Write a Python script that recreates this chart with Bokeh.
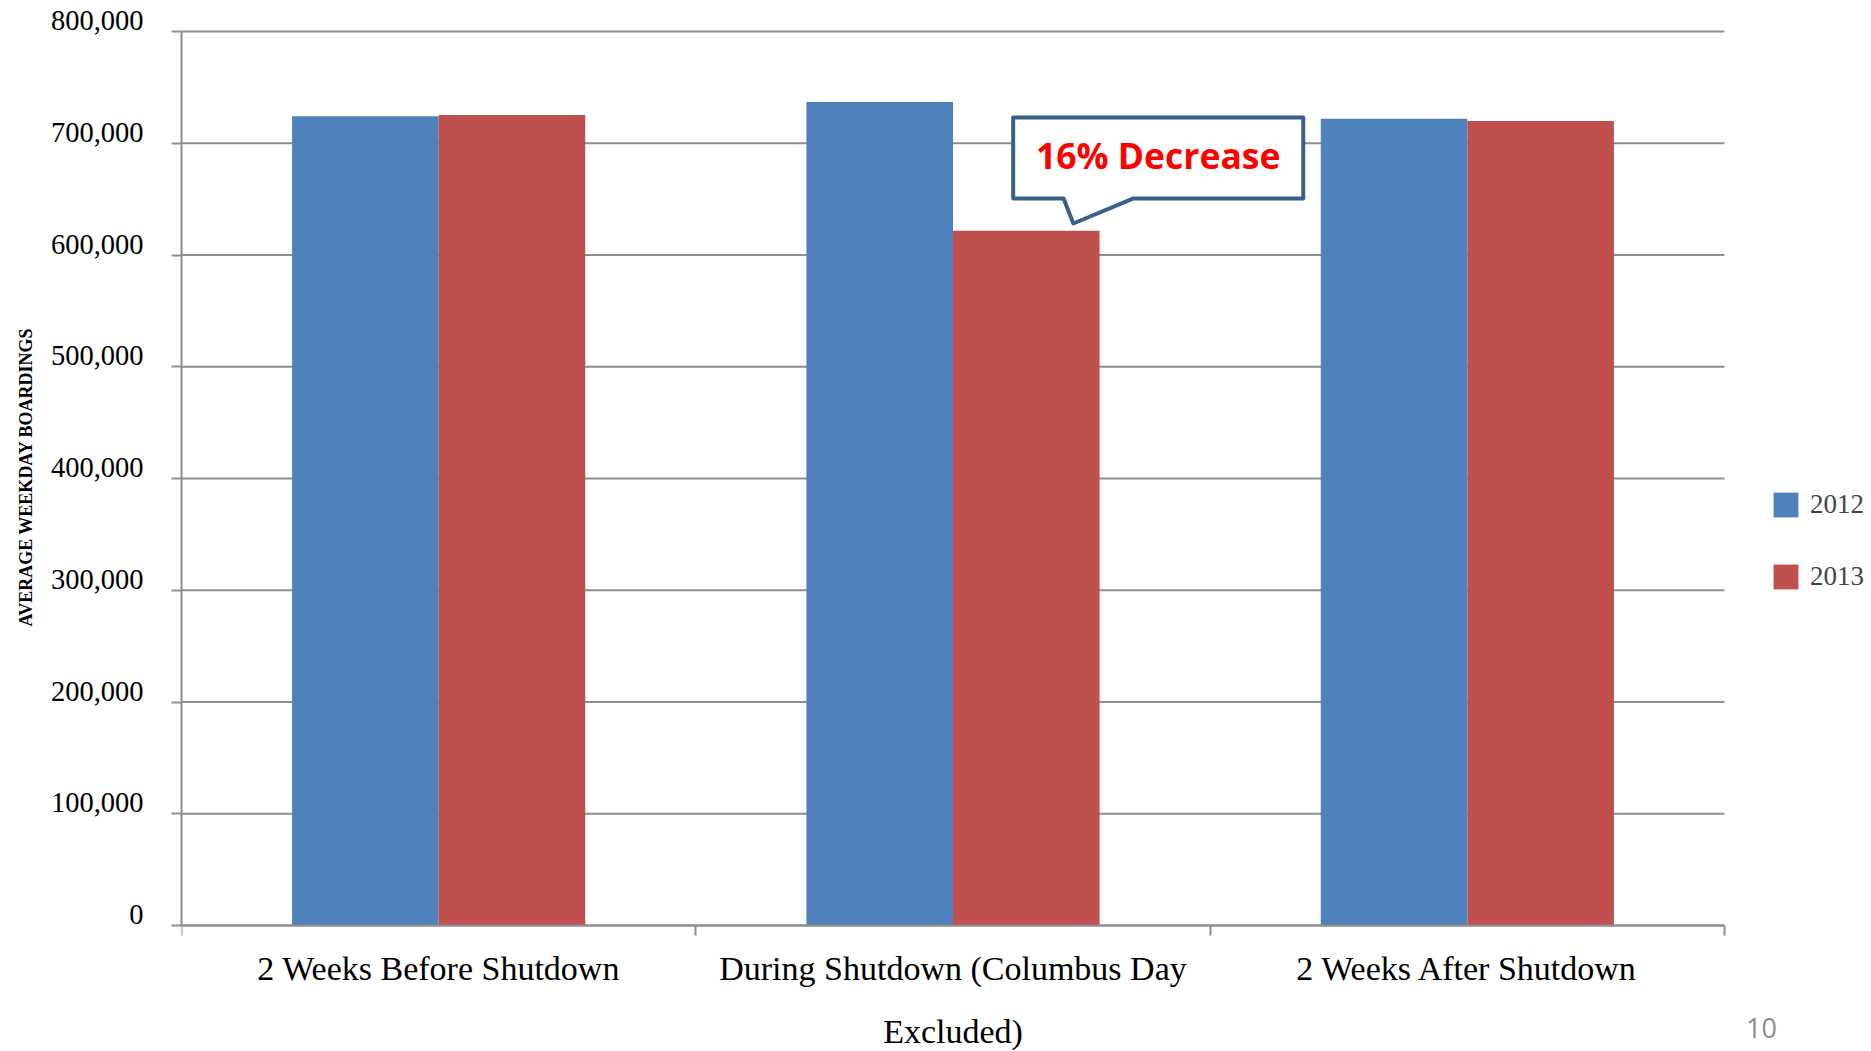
from bokeh.plotting import figure
from bokeh.models import (Range1d, FixedTicker, NumeralTickFormatter, LinearAxis,
                          Legend, LegendItem, Label, Title, ColumnDataSource)
from bokeh.embed import file_html
from bokeh.resources import INLINE

categories = ["2 Weeks Before Shutdown", "During Shutdown (Columbus Day", "2 Weeks After Shutdown"]
label_second_line = ["", "Excluded)", ""]
years = ["2012", "2013"]
values_2012 = [724200, 736900, 722000]
values_2013 = [725200, 621700, 719900]
y_ticks = [0, 100000, 200000, 300000, 400000, 500000, 600000, 700000, 800000]
y_title = "AVERAGE WEEKDAY BOARDINGS"
callout_text = "16% Decrease"
page_number = "10"

BLUE = "#4F81BD"
RED = "#C0504D"
GRID = "#8E8E8E"
SERIF = "Liberation Serif"

n = len(categories)
y_max = y_ticks[-1]
centers = [i + 0.5 for i in range(n)]
bar_w = 0.285
src = ColumnDataSource(dict(
    x12=[c - bar_w / 2 for c in centers],
    x13=[c + bar_w / 2 for c in centers],
    v12=values_2012, v13=values_2013,
))

# the frame spans from the value axis to the right/bottom/top edges of the
# canvas, so that legend, wrapped labels and page number live inside it
x_end = n * 1.09527
y_start = -0.14094 * y_max
y_end = 1.03468 * y_max
p = figure(width=1871, height=1051, x_range=Range1d(0, x_end),
           y_range=Range1d(y_start, y_end), output_backend="svg", toolbar_location=None,
           min_border_left=181, min_border_right=0, min_border_top=0,
           min_border_bottom=0, x_axis_location=None, y_axis_location=None)
p.outline_line_color = None
p.background_fill_color = "white"
p.border_fill_color = "white"
p.xgrid.visible = False
p.ygrid.visible = False

# horizontal gridlines across the category area only
p.segment(x0=0, x1=n, y0=y_ticks, y1=y_ticks, line_color=GRID, line_width=2)

r12 = p.vbar(x="x12", top="v12", width=bar_w, source=src, fill_color=BLUE, line_color=None)
r13 = p.vbar(x="x13", top="v13", width=bar_w, source=src, fill_color=RED, line_color=None)

# value axis: line + ticks
ya = LinearAxis(ticker=FixedTicker(ticks=y_ticks, minor_ticks=[]), bounds=(0, y_max))
ya.axis_line_color = GRID
ya.axis_line_width = 2
ya.major_tick_line_color = GRID
ya.major_tick_line_width = 2
ya.major_tick_out = 10
ya.major_tick_in = 0
ya.major_label_overrides = {t: "" for t in y_ticks}
ya.major_label_standoff = 0
p.add_layout(ya, "left")

# value axis labels, drawn slightly above their ticks as in the original
d = 0.0123 * y_max
p.extra_y_ranges = {"lab": Range1d(y_start - d, y_end - d)}
yl = LinearAxis(y_range_name="lab", ticker=FixedTicker(ticks=y_ticks, minor_ticks=[]))
yl.formatter = NumeralTickFormatter(format="0,0")
yl.axis_line_color = None
yl.major_tick_line_color = None
yl.major_tick_out = 0
yl.major_tick_in = 0
yl.major_label_standoff = 28
yl.major_label_text_font = SERIF
yl.major_label_text_font_size = "28.5px"
yl.major_label_text_color = "black"
p.add_layout(yl, "left")

# value axis title
p.add_layout(Title(text=y_title, align="left", offset=425, standoff=23,
                   text_font=SERIF, text_font_size="18px", text_font_style="bold",
                   text_color="black"), "left")

# category axis at zero: boundary ticks + first label line
xa = LinearAxis(ticker=FixedTicker(ticks=centers, minor_ticks=list(range(n + 1))),
                fixed_location=0, bounds=(0, n))
xa.major_label_overrides = {c: lab for c, lab in zip(centers, categories)}
xa.axis_line_color = GRID
xa.axis_line_width = 2
xa.major_tick_line_color = None
xa.major_tick_out = 10
xa.major_tick_in = 0
xa.minor_tick_line_color = GRID
xa.minor_tick_line_width = 2
xa.minor_tick_out = 10
xa.minor_tick_in = 0
xa.major_label_standoff = 14
xa.major_label_text_font = SERIF
xa.major_label_text_font_size = "34px"
xa.major_label_text_color = "black"
p.add_layout(xa, "below")

# second line of the wrapped label
second = {c: s for c, s in zip(centers, label_second_line) if s}
xa2 = LinearAxis(ticker=FixedTicker(ticks=list(second.keys()), minor_ticks=[]),
                 fixed_location=0, bounds=(0, n))
xa2.major_label_overrides = second
xa2.axis_line_color = None
xa2.major_tick_line_color = None
xa2.minor_tick_line_color = None
xa2.major_tick_out = 0
xa2.major_tick_in = 0
xa2.major_label_standoff = 87
xa2.major_label_text_font = SERIF
xa2.major_label_text_font_size = "34px"
xa2.major_label_text_color = "black"
p.add_layout(xa2, "below")

# legend
legend = Legend(items=[LegendItem(label=years[0], renderers=[r12]),
                       LegendItem(label=years[1], renderers=[r13])],
                location=(1589, 459), orientation="vertical")
legend.border_line_color = None
legend.background_fill_alpha = 0
legend.padding = 0
legend.margin = 0
legend.spacing = 41
legend.glyph_width = 31
legend.glyph_height = 31
legend.label_height = 25
legend.label_standoff = 9
legend.label_text_font = SERIF
legend.label_text_font_size = "27px"
p.add_layout(legend, "center")

# callout pointing at the 2013 bar during shutdown
mid = 1
tip_x = centers[mid] + 0.234
tip_y = values_2013[mid] + 6500
box_l, box_r = tip_x - 0.117, tip_x + 0.447
box_b, box_t = tip_y + 22400, tip_y + 94800
base_l, base_r = tip_x - 0.019, tip_x + 0.117
p.patch(x=[box_l, box_r, box_r, base_r, tip_x, base_l, box_l],
        y=[box_t, box_t, box_b, box_b, tip_y, box_b, box_b],
        fill_color="white", line_color="#3B5F8C", line_width=4, line_join="round")
p.add_layout(Label(x=(box_l + box_r) / 2, y=(box_b + box_t) / 2 + 3000, text=callout_text,
                   text_align="center", text_baseline="middle", text_color="#FF0000",
                   text_font="Open Sans", text_font_style="bold", text_font_size="35.5px"))

# page number
p.add_layout(Label(x=n * 1.024, y=-0.1152 * y_max, text=page_number, text_align="center",
                   text_baseline="middle", text_color="#8C8C8C", text_font="Open Sans",
                   text_font_size="27px"))

open("out.html", "w").write(file_html(p, INLINE))
